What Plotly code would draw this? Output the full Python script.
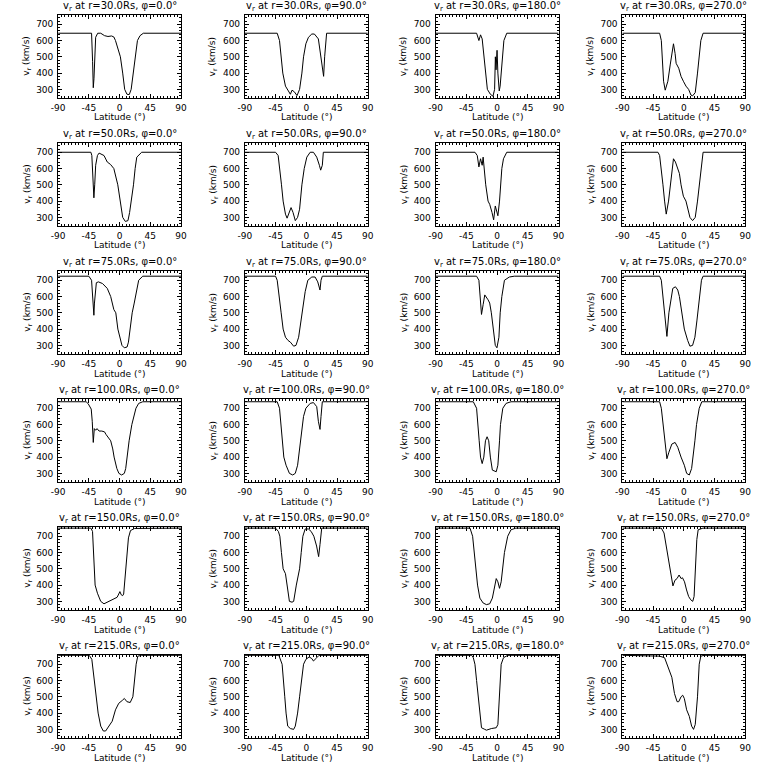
import plotly.graph_objects as go

# ---------------- data ----------------
radii = ["30.0", "50.0", "75.0", "100.0", "150.0", "215.0"]
phis = ["0.0", "90.0", "180.0", "270.0"]
lat_ticks = [-90, -45, 0, 45, 90]
v_ticks = [300, 400, 500, 600, 700]
lat_range = [-90, 90]
v_range = [250, 760]

# r = 30 Rs
lat_r30_p0 = [-90, -41, -39.5, -38.5, -37.5, -36.5, -35, -32, -27.6, -22, -17, -11.7, -8.4, -6, -3, 1.2, 4.6, 7.5, 10.8, 14.2, 17, 20.4, 23.8, 26.2, 30, 34.8, 90]
v_r30_p0 = [645, 645, 470, 310, 365, 520, 620, 645, 645, 630, 625, 628, 622, 600, 560, 500, 400, 300, 270, 268, 300, 400, 500, 600, 630, 645, 645]
lat_r30_p90 = [-90, -42.7, -39.3, -36.4, -34.5, -30.6, -26.8, -23.4, -21, -17.6, -13.7, -9.9, -6.5, -4.1, -0.7, 3.1, 8, 11.8, 17.6, 21, 23.9, 25.3, 26.8, 29.7, 90]
v_r30_p90 = [645, 645, 600, 500, 400, 320, 290, 270, 295, 285, 262, 300, 400, 500, 580, 620, 640, 640, 610, 500, 400, 380, 500, 645, 645]
lat_r30_p180 = [-90, -30, -26.6, -24.2, -21.8, -19, -17, -14.2, -9.8, -6, -3.6, -2.5, -1.5, 0, 1.2, 3.2, 4.5, 6, 8, 10, 14.2, 90]
v_r30_p180 = [645, 645, 600, 635, 610, 500, 400, 300, 270, 258, 300, 500, 420, 540, 400, 290, 320, 400, 500, 600, 645, 645]
lat_r30_p270 = [-90, -35.5, -33, -31.6, -29.7, -27.3, -23.4, -20, -17.1, -15.2, -12.8, -11.3, -7.5, -4.1, -0.7, 3.1, 7, 10.4, 12.8, 16.7, 20, 22.5, 24.9, 28.2, 90]
v_r30_p270 = [645, 645, 600, 500, 350, 295, 350, 450, 530, 580, 520, 460, 430, 380, 350, 320, 300, 265, 260, 280, 400, 500, 600, 645, 645]

# r = 50 Rs
lat_r50_p0 = [-90, -42, -40.6, -39, -37.6, -36.4, -35, -32.4, -30, -22.8, -18, -13.2, -8.4, -2.6, 1.2, 4.6, 8.4, 12.3, 14.7, 17.1, 20.4, 22.8, 25.2, 32.4, 90]
v_r50_p0 = [700, 700, 680, 500, 420, 500, 620, 680, 695, 680, 640, 625, 600, 500, 400, 300, 275, 280, 330, 400, 500, 600, 670, 700, 700]
lat_r50_p90 = [-90, -45.1, -41.3, -38.8, -36.4, -34, -30.6, -28.2, -24.8, -22.4, -19.5, -16.2, -12.8, -9.9, -6.5, -3.1, 0.7, 5.6, 10.4, 15.2, 19.1, 21, 23.4, 24.9, 90]
v_r50_p90 = [700, 700, 680, 600, 500, 400, 320, 295, 330, 360, 330, 280, 300, 350, 500, 600, 670, 700, 700, 670, 620, 590, 620, 700, 700]
lat_r50_p180 = [-90, -32.4, -29, -26.6, -24.2, -21.8, -20.4, -19, -16.6, -13.2, -10.8, -7.4, -5, -2.6, 1.2, 3.6, 5, 7, 9.4, 14.2, 90]
v_r50_p180 = [700, 700, 680, 610, 660, 620, 670, 600, 500, 400, 380, 330, 285, 370, 310, 400, 500, 600, 660, 700, 700]
lat_r50_p270 = [-90, -37.9, -35.5, -33, -30.6, -28.2, -25.8, -22.4, -20, -17.1, -15.2, -12.3, -8.9, -6.5, -4.1, -0.7, 3.1, 5.5, 8.9, 12.8, 16.7, 20, 22.5, 24.9, 28.2, 90]
v_r50_p270 = [700, 700, 680, 600, 500, 400, 320, 400, 500, 620, 660, 640, 600, 570, 500, 430, 400, 350, 300, 280, 300, 400, 500, 600, 700, 700]

# r = 75 Rs
lat_r75_p0 = [-90, -45, -41, -39.5, -37.6, -36.8, -34, -31, -25, -18, -13, -8.4, -5.5, -2.5, 1, 3.5, 7, 11, 13, 15.5, 18.5, 21.5, 25, 28, 34, 90]
v_r75_p0 = [725, 725, 700, 600, 485, 560, 685, 690, 680, 650, 600, 520, 500, 400, 340, 300, 285, 290, 320, 400, 500, 560, 640, 700, 725, 725]
lat_r75_p90 = [-90, -45.1, -42.7, -39.3, -36.9, -34, -30.6, -26.8, -23.4, -18.6, -15.2, -11.3, -8, -5.1, -1.7, 2.2, 8, 12.8, 16.7, 20, 21.5, 23.4, 90]
v_r75_p90 = [725, 725, 700, 600, 500, 400, 350, 330, 320, 295, 300, 350, 450, 550, 630, 700, 720, 720, 690, 640, 700, 725, 725]
lat_r75_p180 = [-90, -30, -26.6, -25.2, -22.8, -20.4, -18, -13.2, -10.8, -8.4, -6, -2.6, -0.2, 2.7, 4.6, 7, 10.8, 18, 25.2, 90]
v_r75_p180 = [725, 725, 700, 600, 490, 550, 610, 580, 560, 500, 400, 300, 285, 350, 500, 600, 700, 720, 725, 725]
lat_r75_p270 = [-90, -35.5, -33, -30.6, -28.2, -24.8, -21.9, -18.6, -16.2, -12.3, -8.9, -6.5, -3.1, 0.7, 5.6, 8.9, 12.8, 16.2, 19.1, 22.5, 25.8, 28.2, 90]
v_r75_p270 = [725, 725, 700, 600, 500, 355, 500, 600, 650, 660, 640, 600, 500, 400, 330, 295, 300, 350, 450, 600, 700, 725, 725]

# r = 100 Rs
lat_r100_p0 = [-90, -49, -46, -43.5, -41.5, -40, -38.5, -37, -35, -33, -30, -26, -22, -20, -13, -10, -8, -4, -1, 3, 7, 9, 11, 14, 18, 24, 28, 34, 90]
v_r100_p0 = [740, 740, 728, 708, 695, 620, 490, 575, 565, 575, 560, 560, 555, 540, 500, 450, 400, 330, 300, 290, 300, 330, 400, 500, 600, 700, 730, 740, 740]
lat_r100_p90 = [-90, -42.7, -39.3, -36.9, -35.5, -33, -29.7, -24.8, -20, -16.2, -12.8, -9.9, -7.5, -4.1, -0.7, 5.6, 10.4, 15.2, 17.6, 20, 21.5, 23.4, 90]
v_r100_p90 = [740, 740, 700, 600, 500, 400, 350, 300, 290, 300, 350, 450, 550, 650, 700, 730, 735, 710, 620, 570, 650, 740, 740]
lat_r100_p180 = [-90, -34.8, -30, -27.6, -26.2, -24.2, -21.8, -19.4, -17, -14.6, -12.2, -9.8, -6.9, -1.2, 1.2, 3.6, 5, 8.4, 13.2, 20.4, 90]
v_r100_p180 = [740, 740, 700, 600, 500, 400, 360, 400, 500, 525, 500, 400, 320, 310, 350, 500, 600, 700, 730, 740, 740]
lat_r100_p270 = [-90, -35.5, -33, -30.6, -28.2, -24.8, -21.9, -17.6, -12.8, -8.9, -4.1, 0.7, 4.1, 8, 11.4, 13.8, 16.2, 18.6, 22.5, 26.3, 90]
v_r100_p270 = [740, 740, 700, 600, 500, 390, 430, 480, 490, 460, 400, 350, 300, 290, 330, 400, 500, 600, 700, 740, 740]

# r = 150 Rs
lat_r150_p0 = [-90, -42, -39.6, -38.2, -35.8, -32.4, -27.6, -22.8, -18, -10.8, -3.6, -1.2, 0.5, 2.5, 4.5, 6, 8, 10, 13, 16, 22, 90]
v_r150_p0 = [750, 750, 730, 600, 400, 350, 300, 285, 295, 310, 325, 345, 360, 340, 335, 345, 450, 580, 690, 735, 748, 750]
lat_r150_p90 = [-90, -45.1, -41, -38.8, -36.5, -34, -30.6, -28.2, -24.8, -21, -18.6, -14.7, -9.9, -7.5, -5.1, -1.7, 3, 7, 11, 15, 18, 20, 22.5, 90]
v_r150_p90 = [750, 750, 730, 700, 600, 500, 470, 400, 300, 295, 300, 400, 500, 600, 700, 745, 745, 730, 700, 640, 575, 650, 750, 750]
lat_r150_p180 = [-90, -39.6, -35.8, -33.4, -31, -28.6, -25.2, -20.4, -15.6, -10.8, -6.9, -3.6, -1.2, 1.2, 3.6, 6, 8.4, 10.8, 15.6, 20.4, 27.6, 90]
v_r150_p180 = [750, 750, 700, 600, 500, 400, 320, 290, 280, 285, 320, 400, 440, 420, 380, 420, 500, 600, 700, 740, 750, 750]
lat_r150_p270 = [-90, -33, -29, -26, -23, -20, -18, -16, -13, -10, -7, -4, -2, 1, 4, 7, 10, 13, 15, 17, 19, 21, 25, 28, 90]
v_r150_p270 = [750, 750, 720, 640, 560, 480, 420, 395, 430, 440, 462, 440, 445, 420, 370, 330, 310, 300, 330, 500, 680, 740, 748, 750, 750]

# r = 215 Rs
lat_r215_p0 = [-90, -44.4, -40.6, -37.2, -34.8, -31.4, -27.6, -23.8, -20.4, -15.6, -10.8, -6, -1.2, 4.6, 7, 10.8, 15.6, 19.5, 21.4, 24.3, 26.7, 32.4, 90]
v_r215_p0 = [755, 755, 730, 600, 500, 400, 320, 290, 290, 320, 350, 420, 460, 480, 490, 470, 465, 500, 600, 700, 750, 755, 755]
lat_r215_p90 = [-90, -40.3, -35.5, -33, -31.6, -29.7, -27.3, -23.4, -18.6, -16.2, -12.8, -9.9, -7.5, -4.1, -0.7, 4.1, 8, 10.4, 15.2, 18.6, 90]
v_r215_p90 = [755, 755, 700, 600, 500, 400, 320, 305, 300, 320, 400, 500, 600, 700, 730, 745, 735, 720, 740, 755, 755]
lat_r215_p180 = [-90, -37.2, -34.8, -32.4, -30, -27.6, -25.2, -22.8, -18, -15.6, -8.4, -1.2, 1.2, 3.6, 6, 9.4, 15.6, 90]
v_r215_p180 = [755, 755, 740, 700, 600, 500, 400, 310, 300, 295, 305, 310, 330, 500, 700, 740, 755, 755]
lat_r215_p270 = [-90, -35.5, -28.2, -24.8, -17.6, -13.7, -9.9, -7.5, -4.1, -1.7, 0.7, 4.1, 8, 11.4, 14.2, 16.7, 20, 22.5, 24.9, 29.7, 90]
v_r215_p270 = [755, 750, 740, 700, 620, 520, 470, 470, 500, 510, 490, 420, 380, 320, 300, 330, 500, 700, 750, 755, 755]

panels = [
    [(lat_r30_p0, v_r30_p0), (lat_r30_p90, v_r30_p90), (lat_r30_p180, v_r30_p180), (lat_r30_p270, v_r30_p270)],
    [(lat_r50_p0, v_r50_p0), (lat_r50_p90, v_r50_p90), (lat_r50_p180, v_r50_p180), (lat_r50_p270, v_r50_p270)],
    [(lat_r75_p0, v_r75_p0), (lat_r75_p90, v_r75_p90), (lat_r75_p180, v_r75_p180), (lat_r75_p270, v_r75_p270)],
    [(lat_r100_p0, v_r100_p0), (lat_r100_p90, v_r100_p90), (lat_r100_p180, v_r100_p180), (lat_r100_p270, v_r100_p270)],
    [(lat_r150_p0, v_r150_p0), (lat_r150_p90, v_r150_p90), (lat_r150_p180, v_r150_p180), (lat_r150_p270, v_r150_p270)],
    [(lat_r215_p0, v_r215_p0), (lat_r215_p90, v_r215_p90), (lat_r215_p180, v_r215_p180), (lat_r215_p270, v_r215_p270)],
]

# ---------------- layout (pixel geometry) ----------------
W = H = 768
col_left = [52, 242, 436, 626]
col_w = 125
row_top0 = 14.5
row_step = 128
row_h = 83
FONT = "DejaVu Sans"

fig = go.Figure()
layout = dict(
    width=W, height=H, margin=dict(l=0, r=0, t=0, b=0),
    paper_bgcolor="white", plot_bgcolor="white", showlegend=False,
    font=dict(family=FONT, color="black", size=9),
)
annotations = []

axis_common = dict(
    showline=True, linecolor="black", linewidth=1, mirror="allticks",
    ticks="inside", ticklen=4, tickwidth=1, tickcolor="black",
    showgrid=False, zeroline=False, fixedrange=True,
    tickfont=dict(family=FONT, size=9, color="black"),
)

for r in range(6):
    for c in range(4):
        k = r * 4 + c + 1
        sfx = "" if k == 1 else str(k)
        top = row_top0 + r * row_step
        x0 = col_left[c] / W
        x1 = (col_left[c] + col_w) / W
        y1 = 1 - top / H
        y0 = 1 - (top + row_h) / H
        lat, v = panels[r][c]
        fig.add_trace(go.Scatter(
            x=lat, y=v, mode="lines", line=dict(color="black", width=1),
            xaxis="x" + sfx, yaxis="y" + sfx, hoverinfo="skip",
        ))
        layout["xaxis" + sfx] = dict(
            axis_common, domain=[x0, x1], range=lat_range, anchor="y" + sfx,
            tickmode="array", tickvals=lat_ticks, ticktext=[str(t) for t in lat_ticks],
            minor=dict(ticks="inside", ticklen=2, dtick=5, tickcolor="black"),
            ticklabelstandoff=2,
        )
        layout["yaxis" + sfx] = dict(
            axis_common, domain=[y0, y1], range=v_range, anchor="x" + sfx,
            tickmode="array", tickvals=v_ticks, ticktext=[str(t) for t in v_ticks],
            minor=dict(ticks="inside", ticklen=2, dtick=20, tickcolor="black"),
            ticklabelstandoff=2,
        )
        cx = (col_left[c] + col_w / 2) / W
        annotations.append(dict(
            x=cx, y=1 - (top - 8) / H, xref="paper", yref="paper", xanchor="center", yanchor="middle",
            text=(f"v<sub>r</sub> at r={radii[r]}Rs, "
                  f"<span style=\"font-family:'Liberation Sans';color:black\">\u03c6</span>={phis[c]}\u00b0"),
            showarrow=False, font=dict(family=FONT, size=10, color="black"),
        ))
        annotations.append(dict(
            x=cx, y=1 - (top + row_h + 20) / H, xref="paper", yref="paper",
            xanchor="center", yanchor="middle", text="Latitude (\u00b0)",
            showarrow=False, font=dict(family=FONT, size=9, color="black"),
        ))
        annotations.append(dict(
            x=(col_left[c] - 32) / W, y=1 - (top + row_h / 2) / H, xref="paper", yref="paper",
            xanchor="center", yanchor="middle", text="v<sub>r</sub> (km/s)", textangle=-90,
            showarrow=False, font=dict(family=FONT, size=9, color="black"),
        ))

layout["annotations"] = annotations
fig.update_layout(**layout)
fig.write_html(
    "out.html",
    config={"displayModeBar": False, "staticPlot": True},
    post_script="document.body.style.margin='0';document.body.style.padding='0';",
)
